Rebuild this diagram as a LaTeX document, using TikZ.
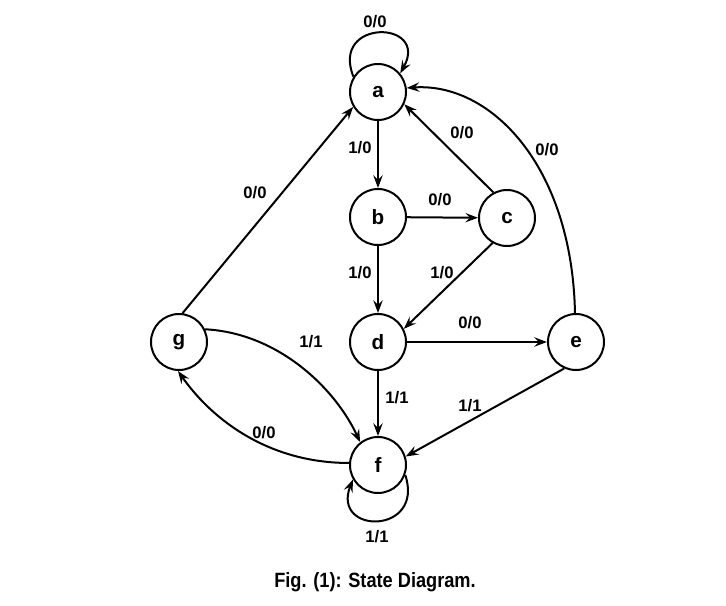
\documentclass[tikz,border=0pt]{standalone}
\usepackage{fontspec}
\usepackage{graphicx}
\setmainfont{Liberation Sans}
\usetikzlibrary{arrows.meta}
\begin{document}
\begin{tikzpicture}[x=0.75pt,y=0.75pt,
  stnode/.style={circle,draw,line width=1.5pt,minimum size=42pt,inner sep=0pt,font=\fontsize{15.5}{15.5}\selectfont\bfseries},
  tr/.style={line width=1.5pt,-{Stealth[length=9.5pt,width=7pt,inset=3.5pt]}},
  lb/.style={inner sep=0pt,font=\fontsize{12.5}{12.5}\selectfont\bfseries}]
\useasboundingbox (0,0) rectangle (726,-606);
\node[stnode] (a) at (378,-92) {a};
\node[stnode] (b) at (378,-217) {b};
\node[stnode] (c) at (507,-218) {c};
\node[stnode] (d) at (378,-342) {d};
\node[stnode] (e) at (576,-342) {e};
\node[stnode] (f) at (378,-465) {f};
\node[stnode] (g) at (179,-342) {g};

\draw[tr] (a.148) .. controls (330,-18) and (430,-20) .. (a.40);
\draw[tr] (a) -- (b);
\draw[tr] (b) -- (c);
\draw[tr] (c.118) -- (a.-25);
\draw[tr] (e.92) .. controls (572,-165) and (490,-82) .. (a.8);
\draw[tr] (g.83) -- (a.211);
\draw[tr] (b) -- (d);
\draw[tr] (c.240) -- (d.27);
\draw[tr] (d) -- (e);
\draw[tr] (d) -- (f);
\draw[tr] (e.246) -- (f.17);
\draw[tr] (g.26) .. controls (278,-333) and (335,-388) .. (f.128);
\draw[tr] (f.176) .. controls (270,-463) and (213,-421) .. (g.268);
\draw[tr] (f.-20) .. controls (425,-535) and (331,-535) .. (f.210);

\node[lb] (l1) at (375,-22) {0/0};
\node[lb] (l2) at (360,-148) {1/0};
\node[lb] (l3) at (462,-133) {0/0};
\node[lb] (l4) at (547,-150) {0/0};
\node[lb] (l5) at (255,-193) {0/0};
\node[lb] (l6) at (440,-200) {0/0};
\node[lb] (l7) at (360,-273) {1/0};
\node[lb] (l8) at (442,-273) {1/0};
\node[lb] (l9) at (470,-323) {0/0};
\node[lb] (l10) at (311,-342) {1/1};
\node[lb] (l11) at (397,-398) {1/1};
\node[lb] (l12) at (470,-406) {1/1};
\node[lb] (l13) at (264,-433) {0/0};
\node[lb] (l14) at (377,-537) {1/1};
\node[inner sep=0pt,font=\fontsize{15.5}{15.5}\selectfont\bfseries] (cap) at (375,-582) {\scalebox{0.88}[1]{Fig. (1): State Diagram.}};
\end{tikzpicture}
\end{document}
